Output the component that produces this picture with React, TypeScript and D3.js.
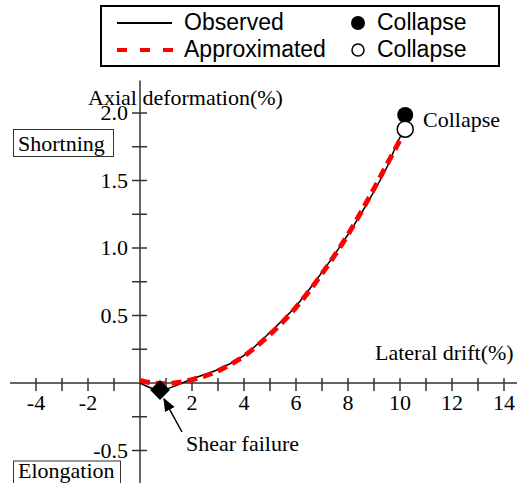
import React from 'react';
import * as d3 from 'd3';

// observed curve (lateral drift %, axial deformation %)
const obsX = [0, 0.77, 1.5, 2, 3, 4, 5, 6, 7, 8, 9, 9.5, 10, 10.2];
const obsY = [0, -0.052, -0.01, 0.03, 0.1, 0.205, 0.375, 0.57, 0.82, 1.1, 1.42, 1.6, 1.82, 1.88];

// approximated curve
const appX = [0, 0.5, 1, 1.5, 2, 3, 4, 5, 6, 7, 8, 9, 9.5, 10];
const appY = [0.02, 0.0, -0.005, 0.005, 0.025, 0.09, 0.2, 0.36, 0.56, 0.81, 1.1, 1.44, 1.62, 1.8];

const shearFailure = [0.77, -0.052];
const collapseObs = [10.2, 1.985];
const collapseApp = [10.2, 1.88];

const xTicks = [-4, -3, -2, -1, 1, 2, 3, 4, 5, 6, 7, 8, 9, 10, 11, 12, 13, 14];
const xLabels = [-4, -2, 2, 4, 6, 8, 10, 12, 14];
const yTicks = [-0.5, -0.25, 0.25, 0.5, 0.75, 1, 1.25, 1.5, 1.75, 2];
const yLabels = [-0.5, 0.5, 1.0, 1.5, 2.0];

const serif = '"Liberation Serif", "Times New Roman", serif';
const sans = '"Liberation Sans", Arial, sans-serif';

export default function App() {
  const W = 520;
  const H = 483;
  const x = d3.scaleLinear().domain([0, 14]).range([140, 504]);
  const y = d3.scaleLinear().domain([0, 2]).range([383, 113]);

  const line = d3.line<number>()
    .x((_, i) => x(obsX[i]))
    .y((_, i) => y(obsY[i]))
    .curve(d3.curveMonotoneX);
  const lineApp = d3.line<number>()
    .x((_, i) => x(appX[i]))
    .y((_, i) => y(appY[i]))
    .curve(d3.curveMonotoneX);

  const x0 = x(0);
  const y0 = y(0);
  const sx = x(shearFailure[0]);
  const sy = y(shearFailure[1]);

  return (
    <svg width={W} height={H} style={{ position: 'absolute', left: 0, top: 0, background: '#fff' }}>
      <defs>
        <marker id="arr" viewBox="0 0 10 10" refX="9" refY="5" markerWidth="9" markerHeight="9" orient="auto">
          <path d="M0,1 L10,5 L0,9 Z" fill="#000" />
        </marker>
      </defs>

      {/* axes */}
      <g stroke="#333" strokeWidth={1.5}>
        <line x1={x(-5)} x2={x(14.5)} y1={y0} y2={y0} />
        <line x1={x0} x2={x0} y1={y(2.24)} y2={H} />
        {xTicks.map(t => (
          <line key={'xt' + t} x1={x(t)} x2={x(t)} y1={y0 - 5} y2={y0 + 8} />
        ))}
        {yTicks.map(t => (
          <line key={'yt' + t} x1={x0 - 8} x2={x0 + 7} y1={y(t)} y2={y(t)} />
        ))}
      </g>
      <g fontFamily={serif} fontSize={22} fill="#000">
        {xLabels.map(t => (
          <text key={'xl' + t} x={x(t)} y={y0 + 27} textAnchor="middle">{t}</text>
        ))}
        {yLabels.map(t => (
          <text key={'yl' + t} x={x0 - 12} y={y(t) + 7} textAnchor="end">{t.toFixed(1)}</text>
        ))}
        <text x={88} y={105}>Axial deformation(%)</text>
        <text x={375} y={360}>Lateral drift(%)</text>
        <text x={423} y={127}>Collapse</text>
        <text x={186} y={451}>Shear failure</text>
        <rect x={13.5} y={129.5} width={100} height={27} fill="none" stroke="#333" strokeWidth={1} />
        <text x={18} y={151}>Shortning</text>
        <rect x={13.5} y={461} width={107} height={30} fill="none" stroke="#333" strokeWidth={1} />
        <text x={18} y={478}>Elongation</text>
      </g>

      {/* curves */}
      <path d={line(obsX) || ''} fill="none" stroke="#000" strokeWidth={1.5} />
      <path d={lineApp(appX) || ''} fill="none" stroke="#ff0000" strokeWidth={5} strokeDasharray="10,6" />

      {/* shear failure */}
      <rect x={sx - 7} y={sy - 7} width={14} height={14} fill="#000" transform={`rotate(45 ${sx} ${sy})`} />
      <line x1={182} y1={432} x2={sx + 4} y2={sy + 9} stroke="#000" strokeWidth={1.5} markerEnd="url(#arr)" />

      {/* collapse markers */}
      <circle cx={x(collapseObs[0])} cy={y(collapseObs[1])} r={8} fill="#000" />
      <circle cx={x(collapseApp[0])} cy={y(collapseApp[1])} r={8} fill="#fff" stroke="#000" strokeWidth={1.5} />

      {/* legend */}
      <g>
        <rect x={101} y={6} width={398} height={60} fill="#fff" stroke="#000" strokeWidth={2} />
        <line x1={117} x2={172} y1={23} y2={23} stroke="#000" strokeWidth={2} />
        <line x1={117} x2={174} y1={50} y2={50} stroke="#ff0000" strokeWidth={4} strokeDasharray="10,13" />
        <circle cx={358} cy={23} r={7} fill="#000" />
        <circle cx={358} cy={50} r={6} fill="#fff" stroke="#000" strokeWidth={1.5} />
        <g fontFamily={sans} fontSize={23} fill="#000">
          <text x={184} y={30}>Observed</text>
          <text x={184} y={57}>Approximated</text>
          <text x={377} y={30}>Collapse</text>
          <text x={377} y={57}>Collapse</text>
        </g>
      </g>
    </svg>
  );
}
